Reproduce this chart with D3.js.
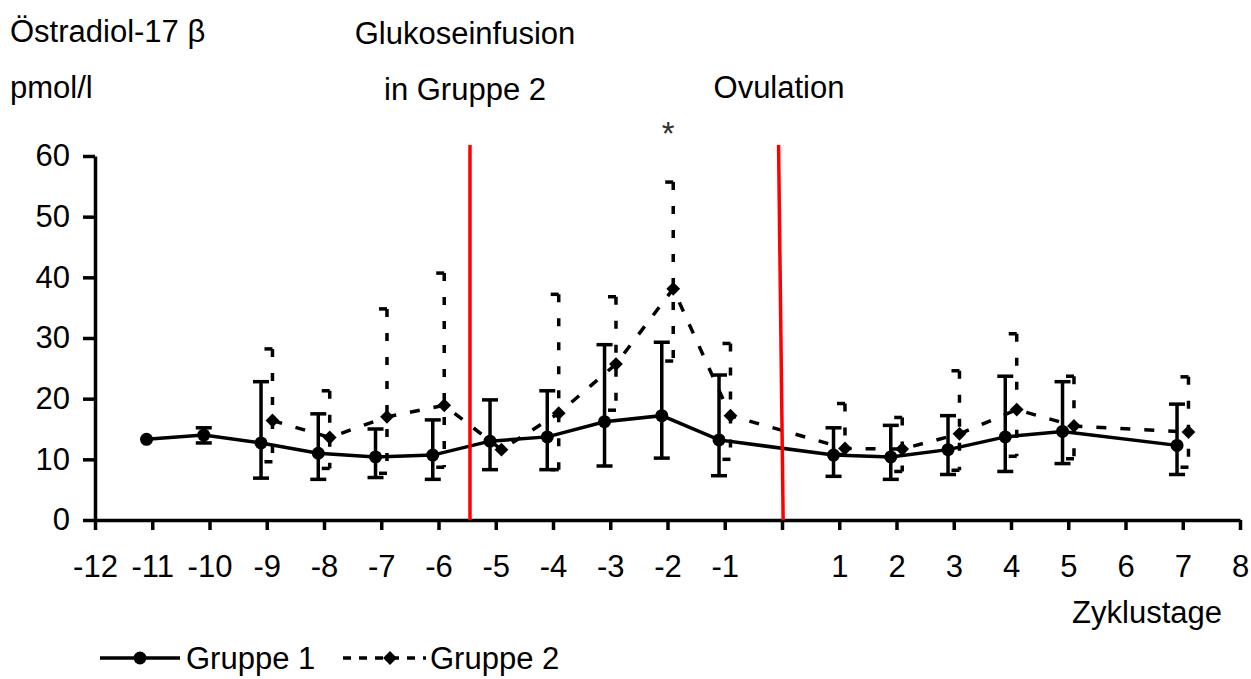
<!DOCTYPE html>
<html>
<head>
<meta charset="utf-8">
<script src="https://cdn.jsdelivr.net/npm/d3@7"></script>
<style>
  body { margin: 0; background: #fff; }
  text { font-family: "Liberation Sans", Arial, sans-serif; fill: #000; }
</style>
</head>
<body>
<div id="chart"></div>
<script>
// Zyklustage (x) and tick labels
var xTicks = d3.range(-12, 9);
var yTicks = [0, 10, 20, 30, 40, 50, 60];

// Gruppe 1: mean and error bar ends
var days1  = [-11, -10, -9, -8, -7, -6, -5, -4, -3, -2, -1, 1, 2, 3, 4, 5, 7];
var g1Mean = [13.3, 14.0, 12.7, 11.0, 10.4, 10.7, 13.0, 13.7, 16.2, 17.2, 13.2, 10.7, 10.4, 11.6, 13.7, 14.6, 12.3];
var g1Up   = [13.3, 15.2, 22.8, 17.5, 15.0, 16.5, 19.8, 21.3, 28.9, 29.3, 23.9, 15.2, 15.6, 17.2, 23.7, 22.8, 19.1];
var g1Low  = [13.3, 12.7, 6.9, 6.7, 7.0, 6.7, 8.3, 8.3, 8.9, 10.2, 7.3, 7.2, 6.7, 7.5, 8.0, 9.3, 7.5];

// Gruppe 2
var days2  = [-9, -8, -7, -6, -5, -4, -3, -2, -1, 1, 2, 3, 4, 5, 7];
var g2Mean = [16.4, 13.6, 17.0, 18.9, 11.6, 17.6, 25.7, 38.1, 17.2, 11.8, 11.7, 14.2, 18.2, 15.5, 14.5];
var g2Up   = [28.2, 21.3, 34.8, 40.7, 11.6, 37.2, 36.8, 55.7, 29.1, 19.2, 16.9, 24.6, 30.7, 23.7, 23.6];
var g2Low  = [9.6, 8.5, 7.7, 8.7, 11.6, 8.3, 18.1, 26.2, 10.0, 10.8, 8.0, 8.2, 10.5, 10.1, 8.7];

// red marker lines: Glukoseinfusion and Ovulation
var events = [{x1: -5.45, x2: -5.45}, {x1: -0.06, x2: 0.02}];

var width = 1251, height = 679;
var margin = {left: 95, right: 11, top: 156, bottom: 159};

var svg = d3.select("#chart").append("svg")
    .attr("width", width)
    .attr("height", height);

var x = d3.scaleLinear().domain([-12, 8]).range([margin.left, width - margin.right]);
var y = d3.scaleLinear().domain([0, 60]).range([height - margin.bottom, margin.top]);

// series are shifted a bit left / right of the day
var off = 0.1;

var g1 = days1.map(function(d, i) { return {x: d - off, m: g1Mean[i], hi: g1Up[i], lo: g1Low[i]}; });
var g2 = days2.map(function(d, i) { return {x: d + off, m: g2Mean[i], hi: g2Up[i], lo: g2Low[i]}; });

// axes
svg.append("g")
    .attr("transform", "translate(" + margin.left + ",0)")
    .call(d3.axisLeft(y).tickValues(yTicks).tickSize(12).tickSizeOuter(0).tickPadding(13));

svg.append("g")
    .attr("transform", "translate(0," + y(0) + ")")
    .call(d3.axisBottom(x).tickValues(xTicks).tickSize(10).tickSizeOuter(0).tickPadding(25)
        .tickFormat(function(d) { return d === 0 ? "" : String(d); }));

svg.selectAll(".domain, .tick line")
    .attr("stroke", "#000")
    .attr("stroke-width", 3.5);
svg.selectAll(".tick text")
    .style("font-size", "31px")
    .style("font-family", "'Liberation Sans', Arial, sans-serif");

// error bars
function errorBars(data, dash) {
    var g = svg.append("g")
        .attr("stroke", "#000")
        .attr("stroke-width", 3.5)
        .attr("fill", "none")
        .attr("stroke-dasharray", dash);
    g.selectAll(".v").data(data).enter().append("line")
        .attr("x1", function(d) { return x(d.x); })
        .attr("x2", function(d) { return x(d.x); })
        .attr("y1", function(d) { return y(d.hi); })
        .attr("y2", function(d) { return y(d.lo); });
    g.selectAll(".ct").data(data.filter(function(d) { return d.hi > d.m; })).enter().append("line")
        .attr("x1", function(d) { return x(d.x) - 8; })
        .attr("x2", function(d) { return x(d.x) + 8; })
        .attr("y1", function(d) { return y(d.hi); })
        .attr("y2", function(d) { return y(d.hi); });
    g.selectAll(".cb").data(data.filter(function(d) { return d.lo < d.m; })).enter().append("line")
        .attr("x1", function(d) { return x(d.x) - 8; })
        .attr("x2", function(d) { return x(d.x) + 8; })
        .attr("y1", function(d) { return y(d.lo); })
        .attr("y2", function(d) { return y(d.lo); });
}

errorBars(g1, null);
errorBars(g2, "8,16");

var line = d3.line()
    .x(function(d) { return x(d.x); })
    .y(function(d) { return y(d.m); });

svg.append("path")
    .datum(g1)
    .attr("fill", "none")
    .attr("stroke", "#000")
    .attr("stroke-width", 3.5)
    .attr("d", line);

svg.append("path")
    .datum(g2)
    .attr("fill", "none")
    .attr("stroke", "#000")
    .attr("stroke-width", 3.5)
    .attr("stroke-dasharray", "10,14")
    .attr("d", line);

svg.append("g").selectAll("circle")
    .data(g1).enter().append("circle")
    .attr("cx", function(d) { return x(d.x); })
    .attr("cy", function(d) { return y(d.m); })
    .attr("r", 6.5)
    .attr("fill", "#000");

var diamond = d3.symbol().type(d3.symbolSquare).size(95);
svg.append("g").selectAll("path")
    .data(g2).enter().append("path")
    .attr("d", diamond)
    .attr("transform", function(d) { return "translate(" + x(d.x) + "," + y(d.m) + ") rotate(45)"; })
    .attr("fill", "#000");

// red event lines
svg.append("g").selectAll("line")
    .data(events).enter().append("line")
    .attr("x1", function(d) { return x(d.x1); })
    .attr("x2", function(d) { return x(d.x2); })
    .attr("y1", y(61.8))
    .attr("y2", y(0))
    .attr("stroke", "#ff0000")
    .attr("stroke-width", 3.5);

// texts
function label(txt, tx, ty, size, anchor) {
    svg.append("text")
        .attr("x", tx)
        .attr("y", ty)
        .attr("text-anchor", anchor || "start")
        .style("font-size", size + "px")
        .text(txt);
}
label("Östradiol-17 β", 10, 42, 31);
label("pmol/l", 10, 98, 31);
label("Glukoseinfusion", 465, 44, 31, "middle");
label("in Gruppe 2", 465, 100, 31, "middle");
label("Ovulation", 779, 98, 31, "middle");
label("Zyklustage", 1222, 623, 31, "end");

svg.append("text")
    .attr("x", x(-2 + off) - 5)
    .attr("y", 145)
    .attr("text-anchor", "middle")
    .style("font-size", "33px")
    .style("fill", "#333")
    .text("*");

// legend
var ly = 658;
svg.append("line")
    .attr("x1", 100).attr("x2", 180).attr("y1", ly).attr("y2", ly)
    .attr("stroke", "#000").attr("stroke-width", 3.5);
svg.append("circle")
    .attr("cx", 140).attr("cy", ly).attr("r", 6.5).attr("fill", "#000");
label("Gruppe 1", 186, 669, 31);

svg.append("line")
    .attr("x1", 343).attr("x2", 426).attr("y1", ly).attr("y2", ly)
    .attr("stroke", "#000").attr("stroke-width", 3.5)
    .attr("stroke-dasharray", "8,8");
svg.append("path")
    .attr("d", diamond)
    .attr("transform", "translate(390," + ly + ") rotate(45)")
    .attr("fill", "#000");
label("Gruppe 2", 430, 669, 31);
</script>
</body>
</html>
